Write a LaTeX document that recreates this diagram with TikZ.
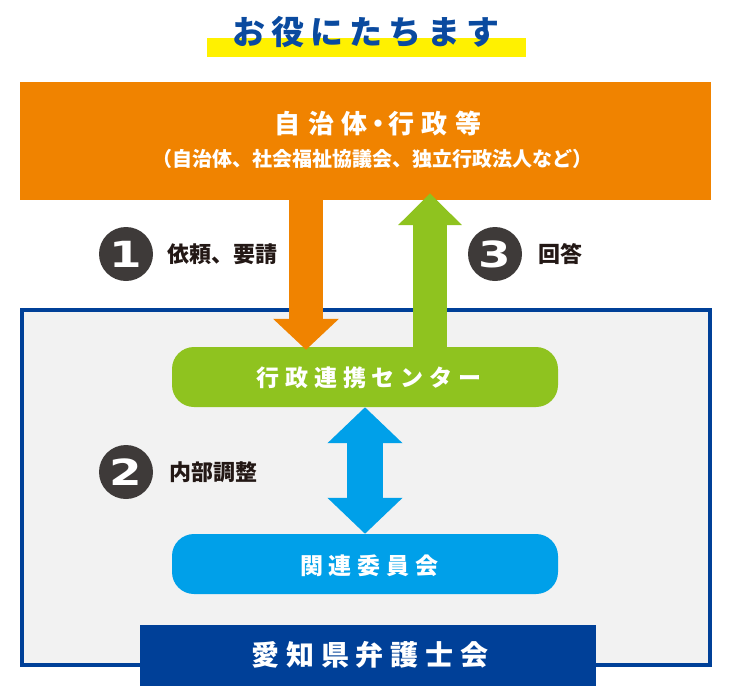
\documentclass[tikz,border=0pt]{standalone}
\usepackage{fontspec}
\newfontfamily\jp{Noto Sans CJK JP}
\newfontfamily\numfont{DejaVu Sans}
\usetikzlibrary{arrows.meta}
\definecolor{govorange}{HTML}{F08300}
\definecolor{centergreen}{HTML}{8FC31F}
\definecolor{committeeblue}{HTML}{00A0E9}
\definecolor{barnavy}{HTML}{004098}
\definecolor{titleblue}{HTML}{0A4A9F}
\definecolor{markyellow}{HTML}{FFF100}
\definecolor{framegray}{HTML}{F2F2F2}
\definecolor{stepgray}{HTML}{3E3A39}
\definecolor{labeltext}{HTML}{231815}
\begin{document}
\begin{tikzpicture}[x=1pt,y=-1pt,
	box/.style={minimum width=386pt,minimum height=60pt,rounded corners=22pt,inner sep=0pt},
	boxtext/.style={text=white,font=\jp\bfseries\fontsize{23}{23}\selectfont\addfontfeature{LetterSpace=25}},
	stepmark/.style={circle,fill=stepgray,minimum size=54pt,inner sep=0pt,text=white,font=\numfont\bfseries\fontsize{36}{36}\selectfont},
	steptext/.style={anchor=west,inner sep=0pt,text=labeltext,font=\jp\bfseries\fontsize{22}{22}\selectfont}]
	\useasboundingbox(0,0)rectangle(735,697);
	% title
	\fill[markyellow](207,38)rectangle(526,57);
	\node[text=titleblue,font=\jp\bfseries\fontsize{33}{33}\selectfont\addfontfeature{LetterSpace=18}](title)at(366,32){お役にたちます};
	% frame
	\draw[barnavy,line width=4pt,fill=framegray](22,310)rectangle(710,665);
	% boxes
	\node[fill=govorange,minimum width=691pt,minimum height=118pt,inner sep=0pt](gov)at(365.5,141){};
	\node[text=white,font=\jp\bfseries\fontsize{26}{26}\selectfont\addfontfeature{LetterSpace=30}](govname)at(378,124){自治体\kern-3pt・\kern-3pt 行政等};
	\node[text=white,font=\jp\bfseries\fontsize{20}{20}\selectfont](govsub)at(372,159){（自治体、社会福祉協議会、独立行政法人など）};
	\node[box,fill=centergreen](center)at(365,377){};
	\node[boxtext](centername)at(369,378){行政連携センター};
	\node[box,fill=committeeblue](committee)at(365,564){};
	\node[boxtext](committeename)at(369,566){関連委員会};
	\node[fill=barnavy,minimum width=456pt,minimum height=61pt,inner sep=0pt](bar)at(368,655.5){};
	\node[text=white,font=\jp\bfseries\fontsize{28}{28}\selectfont\addfontfeature{LetterSpace=24}](barname)at(370,655){愛知県弁護士会};
	% arrows
	\coordinate(reqx)at(306,0);
	\coordinate(ansx)at(430,0);
	\draw[govorange,line width=34pt,-{Triangle[length=31pt,width=64pt]},shorten >=-3pt](gov.south-|reqx)--(center.north-|reqx);
	\draw[centergreen,line width=34pt,-{Triangle[length=32pt,width=62pt]},shorten >=-7pt](center.north-|ansx)--(gov.south-|ansx);
	\draw[committeeblue,line width=36pt,{Triangle[length=36pt,width=73pt]}-{Triangle[length=36pt,width=73pt]}](center.south)--(committee.north);
	% steps
	\node[stepmark](step1)at(126,254){\scalebox{1.3}[1]{1}};
	\node[steptext](step1text)at(167,254){依頼、要請};
	\node[stepmark](step2)at(126,472){\scalebox{1.3}[1]{2}};
	\node[steptext](step2text)at(169,472){内部調整};
	\node[stepmark](step3)at(495,254){\scalebox{1.3}[1]{3}};
	\node[steptext](step3text)at(538,254){回答};
\end{tikzpicture}
\end{document}
